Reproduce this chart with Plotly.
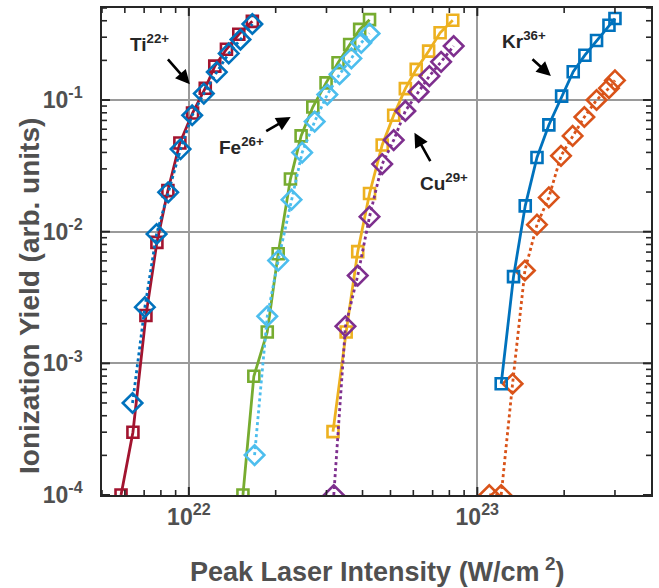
import numpy as np
import plotly.graph_objects as go

# ---- data ----
ti_sq_x = [5.82e21, 6.40e21, 7.10e21, 7.75e21, 8.46e21, 9.31e21, 1.03e22, 1.14e22, 1.23e22, 1.35e22, 1.49e22, 1.66e22]
ti_sq_y = [1.0e-4, 3.0e-4, 2.31e-3, 8.3e-3, 0.0205, 0.0472, 0.0797, 0.123, 0.181, 0.243, 0.316, 0.396]
ti_di_x = [6.38e21, 7.04e21, 7.73e21, 8.48e21, 9.36e21, 1.027e22, 1.127e22, 1.25e22, 1.375e22, 1.51e22, 1.66e22]
ti_di_y = [5.0e-4, 2.67e-3, 9.6e-3, 0.0199, 0.0424, 0.0766, 0.112, 0.163, 0.226, 0.288, 0.378]

fe_sq_x = [1.54e22, 1.68e22, 1.87e22, 2.04e22, 2.25e22, 2.45e22, 2.69e22, 2.99e22, 3.29e22, 3.61e22, 3.91e22, 4.23e22]
fe_sq_y = [1.0e-4, 7.98e-4, 1.73e-3, 6.8e-3, 0.0251, 0.0534, 0.0885, 0.135, 0.192, 0.264, 0.344, 0.408]
fe_di_x = [1.69e22, 1.87e22, 2.04e22, 2.27e22, 2.47e22, 2.73e22, 3.02e22, 3.33e22, 3.66e22, 3.96e22, 4.23e22]
fe_di_y = [2.01e-4, 2.28e-3, 6.03e-3, 0.0175, 0.0399, 0.0686, 0.110, 0.157, 0.207, 0.272, 0.320]

cu_sq_x = [3.16e22, 3.51e22, 3.85e22, 4.23e22, 4.68e22, 5.13e22, 5.63e22, 6.14e22, 6.78e22, 7.43e22, 8.22e22]
cu_sq_y = [3.03e-4, 1.73e-3, 7.05e-3, 0.0195, 0.0456, 0.0766, 0.122, 0.171, 0.235, 0.324, 0.404]
cu_di_x = [3.18e22, 3.49e22, 3.85e22, 4.23e22, 4.68e22, 5.13e22, 5.63e22, 6.26e22, 6.82e22, 7.49e22, 8.28e22]
cu_di_y = [1.0e-4, 1.91e-3, 4.64e-3, 0.0130, 0.0326, 0.0496, 0.0826, 0.1155, 0.152, 0.195, 0.257]

kr_sq_x = [1.21e23, 1.335e23, 1.466e23, 1.61e23, 1.77e23, 1.96e23, 2.15e23, 2.36e23, 2.59e23, 2.86e23, 3.00e23]
kr_sq_y = [7.0e-4, 4.56e-3, 0.0157, 0.0366, 0.0647, 0.107, 0.164, 0.219, 0.283, 0.370, 0.416]
kr_di_x = [1.10e23, 1.21e23, 1.325e23, 1.462e23, 1.61e23, 1.77e23, 1.95e23, 2.14e23, 2.35e23, 2.59e23, 2.86e23, 3.00e23]
kr_di_y = [1.0e-4, 1.0e-4, 7.0e-4, 5.07e-3, 0.0113, 0.0182, 0.0377, 0.0534, 0.0743, 0.100, 0.123, 0.141]

x_ticks = [1e22, 1e23]
x_ticktext = ["10<sup>22</sup>", "10<sup>23</sup>"]
y_ticks = [1e-4, 1e-3, 1e-2, 1e-1]
y_ticktext = ["10<sup>-4</sup>", "10<sup>-3</sup>", "10<sup>-2</sup>", "10<sup>-1</sup>"]

labels = ["Ti<sup>22+</sup>", "Fe<sup>26+</sup>", "Cu<sup>29+</sup>", "Kr<sup>36+</sup>"]
x_title = "Peak Laser Intensity (W/cm<sup> 2</sup>)"
y_title = "Ionization Yield (arb. units)"

x_range = [np.log10(5e21), np.log10(4e23)]
y_range = [np.log10(1e-4), np.log10(0.5)]
x_minor = [m * 10.0**e for e in (21, 22, 23) for m in range(2, 10) if 5e21 <= m * 10.0**e <= 4e23]
y_minor = [m * 10.0**e for e in (-4, -3, -2, -1) for m in range(2, 10) if m * 10.0**e <= 0.5]

FONT = "Liberation Sans, Arial, Helvetica, sans-serif"
AXC = "#262626"
GRIDC = "#9A9A9A"

W, H = 659, 588
ML, MR, MT, MB = 102, 7, 6, 93
PW, PH = W - ML - MR, H - MT - MB   # plot area in pixels

fig = go.Figure()

def add(x, y, color, symbol, dash, size):
    fig.add_trace(go.Scatter(
        x=x, y=y, mode="lines+markers",
        line=dict(color=color, width=2.8, dash=dash),
        marker=dict(symbol=symbol, size=size, color=color,
                    line=dict(color=color, width=2.6)),
        showlegend=False, hoverinfo="skip"))

add(ti_sq_x, ti_sq_y, "#A2142F", "square-open", "solid", 11)
add(ti_di_x, ti_di_y, "#0072BD", "diamond-open", "dot", 15)
add(fe_sq_x, fe_sq_y, "#77AC30", "square-open", "solid", 11)
add(fe_di_x, fe_di_y, "#4DBEEE", "diamond-open", "dot", 15)
add(cu_sq_x, cu_sq_y, "#EDB120", "square-open", "solid", 11)
add(cu_di_x, cu_di_y, "#7E2F8E", "diamond-open", "dot", 15)
add(kr_di_x, kr_di_y, "#D95319", "diamond-open", "dot", 15)
add(kr_sq_x, kr_sq_y, "#0072BD", "square-open", "solid", 11)

# inside tick marks on all four sides, as short segments on the main log axes
dx = x_range[1] - x_range[0]
dy = y_range[1] - y_range[0]

def y_tick_segments(vals, ln):
    xl0, xl1 = 10 ** x_range[0], 10 ** (x_range[0] + ln / PW * dx)
    xr0, xr1 = 10 ** x_range[1], 10 ** (x_range[1] - ln / PW * dx)
    xs, ys = [], []
    for v in vals:
        xs += [xl0, xl1, None, xr0, xr1, None]
        ys += [v, v, None, v, v, None]
    return xs, ys

def x_tick_segments(vals, ln):
    yb0, yb1 = 10 ** y_range[0], 10 ** (y_range[0] + ln / PH * dy)
    yt0, yt1 = 10 ** y_range[1], 10 ** (y_range[1] - ln / PH * dy)
    xs, ys = [], []
    for v in vals:
        xs += [v, v, None, v, v, None]
        ys += [yb0, yb1, None, yt0, yt1, None]
    return xs, ys

for vals, ln, w in ((y_minor, 5, 1.6), (y_ticks, 8, 2)):
    tx, ty = y_tick_segments(vals, ln)
    fig.add_trace(go.Scatter(x=tx, y=ty, mode="lines", line=dict(color=AXC, width=w),
                             showlegend=False, hoverinfo="skip", cliponaxis=False))
for vals, ln, w in ((x_minor, 5, 1.6), (x_ticks, 8, 2)):
    tx, ty = x_tick_segments(vals, ln)
    fig.add_trace(go.Scatter(x=tx, y=ty, mode="lines", line=dict(color=AXC, width=w),
                             showlegend=False, hoverinfo="skip", cliponaxis=False))

tick_font = dict(family=FONT, size=23, color="#505050", weight="bold")
ann_font = dict(family=FONT, size=19, color="#262626", weight="bold")
title_font = dict(family=FONT, size=27, color="#505050", weight="bold")

axis_common = dict(
    type="log", showline=True, linecolor=AXC, linewidth=2, mirror=True,
    ticks="", showgrid=True, gridcolor=GRIDC, gridwidth=2, zeroline=False,
    tickfont=tick_font, tickmode="array",
)

fig.update_layout(
    width=W, height=H,
    margin=dict(l=ML, r=MR, t=MT, b=MB),
    paper_bgcolor="white", plot_bgcolor="white",
    xaxis=dict(axis_common, range=x_range, tickvals=x_ticks, ticktext=x_ticktext),
    yaxis=dict(axis_common, range=y_range, tickvals=y_ticks,
               ticktext=[t + "  " for t in y_ticktext]),
)

# axis titles
fig.add_annotation(x=0.5, y=0, xref="paper", yref="paper", yshift=-94,
                   text=x_title, showarrow=False, font=title_font,
                   xanchor="center", yanchor="bottom")
fig.add_annotation(x=0, y=0.458, xref="paper", yref="paper", xshift=-72, yshift=-24,
                   text=y_title, showarrow=False, font=dict(title_font, size=28), textangle=-90,
                   xanchor="center", yanchor="middle")

# label texts (log10 data coordinates)
text_pos = [(21.863, -0.564), (22.183, -1.348), (22.886, -1.621), (23.163, -0.542)]
arrows = [((22.0035, -0.881), (21.923, -0.680)),
          ((22.353, -1.129), (22.263, -1.242)),
          ((22.782, -1.248), (22.840, -1.475)),
          ((23.255, -0.818), (23.186, -0.680))]

for lab, (tx, ty) in zip(labels, text_pos):
    fig.add_annotation(x=tx, y=ty, xref="x", yref="y", text=lab,
                       showarrow=False, font=ann_font, xanchor="center", yanchor="middle")
for (hx, hy), (tx, ty) in arrows:
    fig.add_annotation(x=hx, y=hy, ax=tx, ay=ty, xref="x", yref="y", axref="x", ayref="y",
                       text="", showarrow=True, arrowhead=2, arrowsize=1.1, arrowwidth=2.6,
                       arrowcolor="black")

fig.write_html("out.html")
